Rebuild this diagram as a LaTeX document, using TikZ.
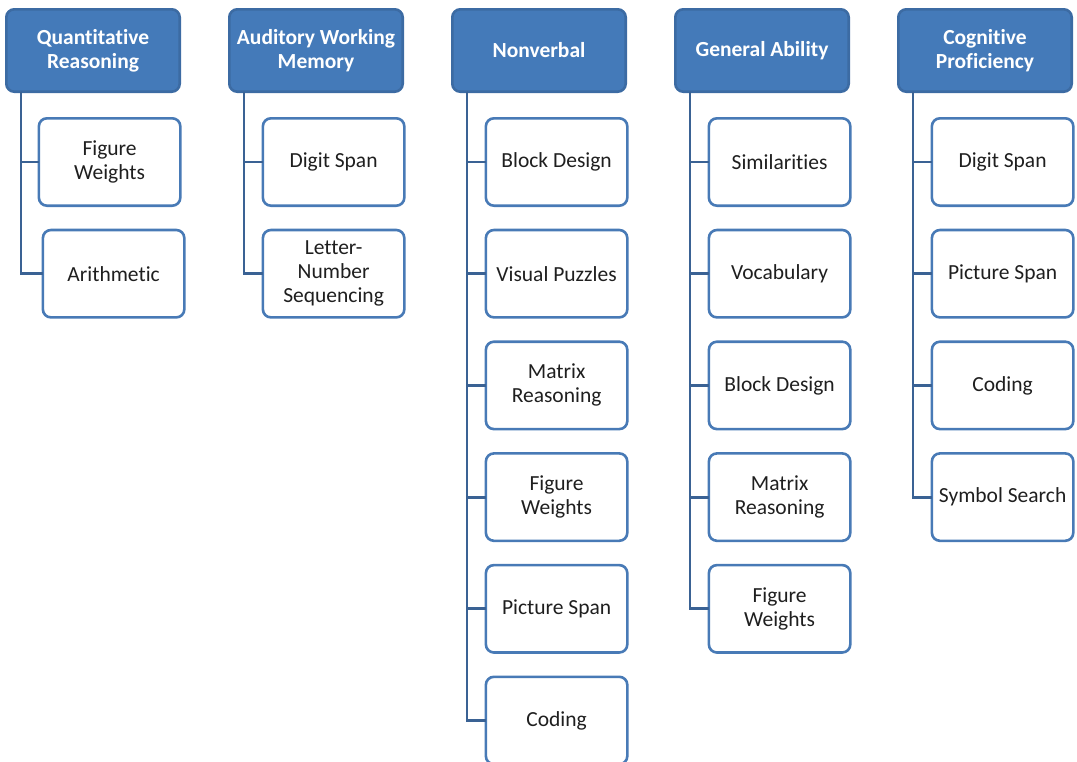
\documentclass[tikz,border=0pt]{standalone}
\usepackage{fontspec}
\setmainfont{Carlito}[Ligatures={NoCommon,NoContextual,NoRare}]
\usetikzlibrary{positioning}
\definecolor{hdrblue}{RGB}{68,122,185}
\definecolor{boxblue}{RGB}{72,122,182}
\definecolor{linkblue}{RGB}{58,98,148}

\begin{document}
\begin{tikzpicture}[x=1pt, y=-1pt,
  every node/.style={rectangle, draw=boxblue, line width=2.6pt, outer sep=0pt, align=center, rounded corners=8pt, font=\fontsize{21.5}{24}\selectfont, text=black!88},
  head/.style={fill=hdrblue, draw=hdrblue!88!black, text=white, font=\bfseries\fontsize{21.5}{24}\selectfont, minimum width=173.4pt, minimum height=82.4pt},
  sub/.style={fill=white, minimum width=141.4pt, minimum height=87.4pt},
  link/.style={draw=linkblue, line width=2.8pt},
  node distance=24.3pt
]
\useasboundingbox (0,0) rectangle (1077,761);

% Cabeceras
\node[head, anchor=north west] (quant) at (6.3,9.3) {Quantitative\\Reasoning};
\node[head, right=49.6pt of quant] (audit) {Auditory Working\\Memory};
\node[head, right=49.6pt of audit] (nonverb) {Nonverbal};
\node[head, right=49.6pt of nonverb] (genab) {General Ability};
\node[head, right=49.6pt of genab] (cogprof) {Cognitive\\Proficiency};

% Quantitative Reasoning
\node[sub, below right=26.6pt and -140.8pt of quant] (q1) {Figure\\Weights};
\node[sub, below=of q1, xshift=4pt] (q2) {Arithmetic};

% Auditory Working Memory
\node[sub, below right=26.6pt and -139.8pt of audit] (a1) {Digit Span};
\node[sub, below=of a1] (a2) {Letter-\\Number\\Sequencing};

% Nonverbal
\node[sub, below right=26.6pt and -139.8pt of nonverb] (n1) {Block Design};
\node[sub, below=of n1] (n2) {Visual Puzzles};
\node[sub, below=of n2] (n3) {Matrix\\Reasoning};
\node[sub, below=of n3] (n4) {Figure\\Weights};
\node[sub, below=of n4] (n5) {Picture Span};
\node[sub, below=of n5] (n6) {Coding};

% General Ability
\node[sub, below right=26.6pt and -139.8pt of genab] (g1) {Similarities};
\node[sub, below=of g1] (g2) {Vocabulary};
\node[sub, below=of g2] (g3) {Block Design};
\node[sub, below=of g3] (g4) {Matrix\\Reasoning};
\node[sub, below=of g4] (g5) {Figure\\Weights};

% Cognitive Proficiency
\node[sub, below right=26.6pt and -139.8pt of cogprof] (c1) {Digit Span};
\node[sub, below=of c1] (c2) {Picture Span};
\node[sub, below=of c2] (c3) {Coding};
\node[sub, below=of c3] (c4) {Symbol Search};

% Conexiones
\draw[link] ([xshift=14.7pt]quant.south west) |- (q1.west);
\draw[link] ([xshift=14.7pt]quant.south west) |- (q2.west);

\draw[link] ([xshift=14.7pt]audit.south west) |- (a1.west);
\draw[link] ([xshift=14.7pt]audit.south west) |- (a2.west);

\draw[link] ([xshift=14.7pt]nonverb.south west) |- (n1.west);
\draw[link] ([xshift=14.7pt]nonverb.south west) |- (n2.west);
\draw[link] ([xshift=14.7pt]nonverb.south west) |- (n3.west);
\draw[link] ([xshift=14.7pt]nonverb.south west) |- (n4.west);
\draw[link] ([xshift=14.7pt]nonverb.south west) |- (n5.west);
\draw[link] ([xshift=14.7pt]nonverb.south west) |- (n6.west);

\draw[link] ([xshift=14.7pt]genab.south west) |- (g1.west);
\draw[link] ([xshift=14.7pt]genab.south west) |- (g2.west);
\draw[link] ([xshift=14.7pt]genab.south west) |- (g3.west);
\draw[link] ([xshift=14.7pt]genab.south west) |- (g4.west);
\draw[link] ([xshift=14.7pt]genab.south west) |- (g5.west);

\draw[link] ([xshift=14.7pt]cogprof.south west) |- (c1.west);
\draw[link] ([xshift=14.7pt]cogprof.south west) |- (c2.west);
\draw[link] ([xshift=14.7pt]cogprof.south west) |- (c3.west);
\draw[link] ([xshift=14.7pt]cogprof.south west) |- (c4.west);

\end{tikzpicture}
\end{document}
